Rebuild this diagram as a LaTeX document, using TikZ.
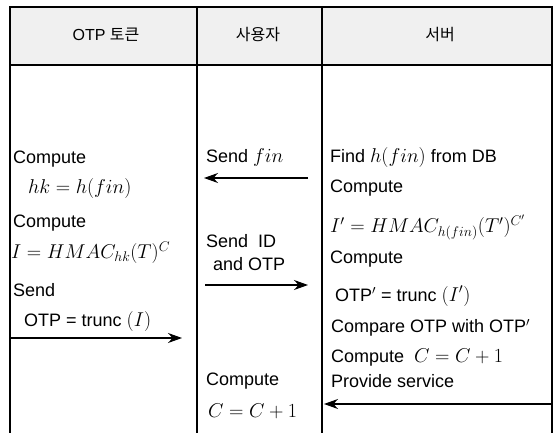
\RequirePackage{fix-cm}
\documentclass[tikz,border=0pt]{standalone}
\usepackage{fontspec}
\setmainfont{Liberation Sans}
\newfontfamily\kr{Noto Sans CJK KR}
\usetikzlibrary{arrows.meta}
\newcommand\txtsize{\fontsize{18}{20}\selectfont}
\newcommand\mthsize{\fontsize{20}{22}\selectfont}
\begin{document}
\begin{tikzpicture}[x=1pt,y=-1pt,
  frame/.style={line width=1.5pt},
  txt/.style={anchor=west,inner sep=0pt,font=\txtsize},
  mth/.style={anchor=west,inner sep=0pt,font=\mthsize},
  head/.style={inner sep=0pt,font=\fontsize{16}{18}\selectfont},
  msg/.style={line width=1.1pt,-{Stealth[length=14pt,width=10pt]}}]
\useasboundingbox (0,0) rectangle (555,433);
% header band
\fill[gray!12] (10,7) rectangle (552,65);
% table frame
\draw[frame] (10,433) -- (10,7) -- (552,7) -- (552,433);
\draw[line width=2pt] (10,65) -- (552,65);
\draw[frame] (197,7) -- (197,433);
\draw[frame] (322,7) -- (322,433);
% column titles
\node[head] (hToken) at (106,35) {OTP {\kr 토큰}};
\node[head] (hUser) at (258,35) {\kr 사용자};
\node[head] (hServer) at (440,35) {\kr 서버};
% token column
\node[txt] (tC1) at (13,159) {Compute};
\node[mth] (tHk) at (28,189) {$hk = h(fin)$};
\node[txt] (tC2) at (13,223) {Compute};
\node[mth] (tI) at (11,253) {$I = HMAC_{hk}(T)^{C}$};
\node[txt] (tSend) at (13,290) {Send};
\node[txt] (tOtp) at (24,322) {OTP = trunc \mthsize$(I)$};
% user column
\node[txt] (uFin) at (206,158) {Send \mthsize$fin$};
\node[txt] (uId) at (206,241) {Send\ \ ID};
\node[txt] (uOtp) at (213,264) {and OTP};
\node[txt] (uC) at (206,381) {Compute};
\node[mth] (uCC) at (208,411) {$C = C+1$};
% server column
\node[txt] (sFind) at (330,158) {Find \mthsize$h(fin)$\txtsize\ from DB};
\node[txt] (sC1) at (330,188) {Compute};
\node[mth] (sI) at (330,227) {$I' = HMAC_{h(fin)}(T')^{C'}$};
\node[txt] (sC2) at (330,259) {Compute};
\node[txt] (sOtp) at (335,296) {OTP$'$ = trunc \mthsize$(I')$};
\node[txt] (sCmp) at (331,328) {Compare OTP with OTP$'$};
\node[txt] (sCC) at (331,358) {Compute\ \ \mthsize$C = C+1$};
\node[txt] (sProv) at (331,381) {Provide service};
% message arrows
\coordinate (a1s) at (308,178); \coordinate (a1e) at (204,178);
\coordinate (a2s) at (205,285); \coordinate (a2e) at (308,285);
\coordinate (a3s) at (10,338);  \coordinate (a3e) at (182,338);
\coordinate (a4s) at (552,404); \coordinate (a4e) at (324,404);
\draw[msg] (a1s) -- (a1e);
\draw[msg] (a2s) -- (a2e);
\draw[msg] (a3s) -- (a3e);
\draw[msg] (a4s) -- (a4e);
\end{tikzpicture}
\end{document}
